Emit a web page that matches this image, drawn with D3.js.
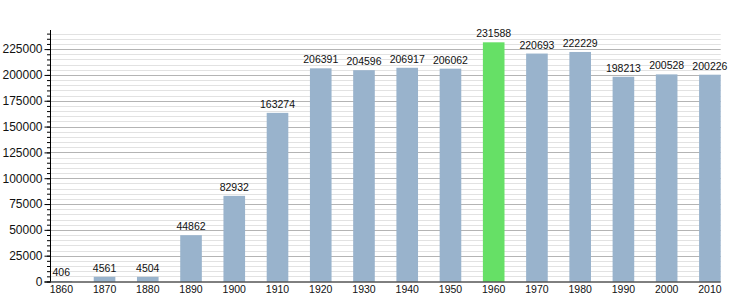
<!DOCTYPE html>
<html>
<head>
<meta charset="utf-8">
<script src="https://cdn.jsdelivr.net/npm/d3@7"></script>
<style>
  html, body { margin: 0; padding: 0; background: #fff; }
  svg { display: block; font-family: "Liberation Sans", Arial, sans-serif; }
</style>
</head>
<body>
<svg id="chart" width="750" height="300"></svg>
<script>
const years = ["1860","1870","1880","1890","1900","1910","1920","1930","1940","1950","1960","1970","1980","1990","2000","2010"];
const population = [406, 4561, 4504, 44862, 82932, 163274, 206391, 204596, 206917, 206062, 231588, 220693, 222229, 198213, 200528, 200226];
const highlightYear = "1960";
const majorTicks = [0, 25000, 50000, 75000, 100000, 125000, 150000, 175000, 200000, 225000];
const minorStep = 5000;
const yMax = 243500;

const svg = d3.select("#chart");
const mLeft = 50.5, mRight = 720.7, mTop = 30, mBottom = 281.5;

const x = d3.scaleBand().domain(years).range([mLeft, mRight]).paddingInner(0.5).paddingOuter(0);
const y = d3.scaleLinear().domain([0, yMax]).range([mBottom, mTop]);

const minorTicks = d3.range(0, yMax, minorStep);

// minor gridlines
svg.append("g").selectAll("line").data(minorTicks.filter(v => v % 25000 !== 0))
  .join("line")
  .attr("x1", mLeft).attr("x2", mRight)
  .attr("y1", d => Math.round(y(d)) + 0.5).attr("y2", d => Math.round(y(d)) + 0.5)
  .attr("stroke", "#e2e2e2").attr("stroke-width", 1);

// major gridlines
svg.append("g").selectAll("line").data(majorTicks.filter(v => v > 0))
  .join("line")
  .attr("x1", mLeft).attr("x2", mRight)
  .attr("y1", d => Math.round(y(d)) + 0.5).attr("y2", d => Math.round(y(d)) + 0.5)
  .attr("stroke", "#b4b4b4").attr("stroke-width", 1);

// bars
svg.append("g").selectAll("rect").data(years)
  .join("rect")
  .attr("x", d => x(d))
  .attr("width", x.bandwidth())
  .attr("y", (d, i) => y(population[i]))
  .attr("height", (d, i) => y(0) - y(population[i]))
  .attr("fill", d => d === highlightYear ? "#66e066" : "#99b3cc");

// value labels
svg.append("g").selectAll("text").data(years)
  .join("text")
  .attr("x", d => x(d) + x.bandwidth() / 2)
  .attr("y", (d, i) => y(population[i]) - 5)
  .attr("text-anchor", "middle")
  .attr("font-size", 10.5)
  .attr("fill", "#111")
  .text((d, i) => population[i]);

// y axis: minor ticks
const yAxisMinor = d3.axisLeft(y).tickValues(minorTicks).tickSize(3.5).tickFormat("");
svg.append("g").attr("transform", `translate(${mLeft},0)`).call(yAxisMinor)
  .call(g => g.select(".domain").remove())
  .call(g => g.selectAll("line").attr("stroke", "#000"));

// y axis: major ticks with labels
const yAxis = d3.axisLeft(y).tickValues(majorTicks).tickSize(6).tickPadding(2).tickFormat(d3.format("d"));
svg.append("g").attr("transform", `translate(${mLeft},0)`).call(yAxis)
  .call(g => g.select(".domain").attr("d", `M0,${mBottom}V${mTop}`).attr("stroke", "#000"))
  .call(g => g.selectAll("line").attr("stroke", "#000"))
  .call(g => g.selectAll("text").attr("font-size", 12).attr("fill", "#111")
    .attr("font-family", "'Liberation Sans', Arial, sans-serif"));

// x axis
const xAxis = d3.axisBottom(x).tickSize(0).tickPadding(4);
svg.append("g").attr("transform", `translate(0,${mBottom})`).call(xAxis)
  .call(g => g.select(".domain").attr("d", `M${mLeft - 6},0.5H${mRight}`).attr("stroke", "#000"))
  .call(g => g.selectAll("text").attr("font-size", 10.5).attr("fill", "#111")
    .attr("font-family", "'Liberation Sans', Arial, sans-serif"));
</script>
</body>
</html>
